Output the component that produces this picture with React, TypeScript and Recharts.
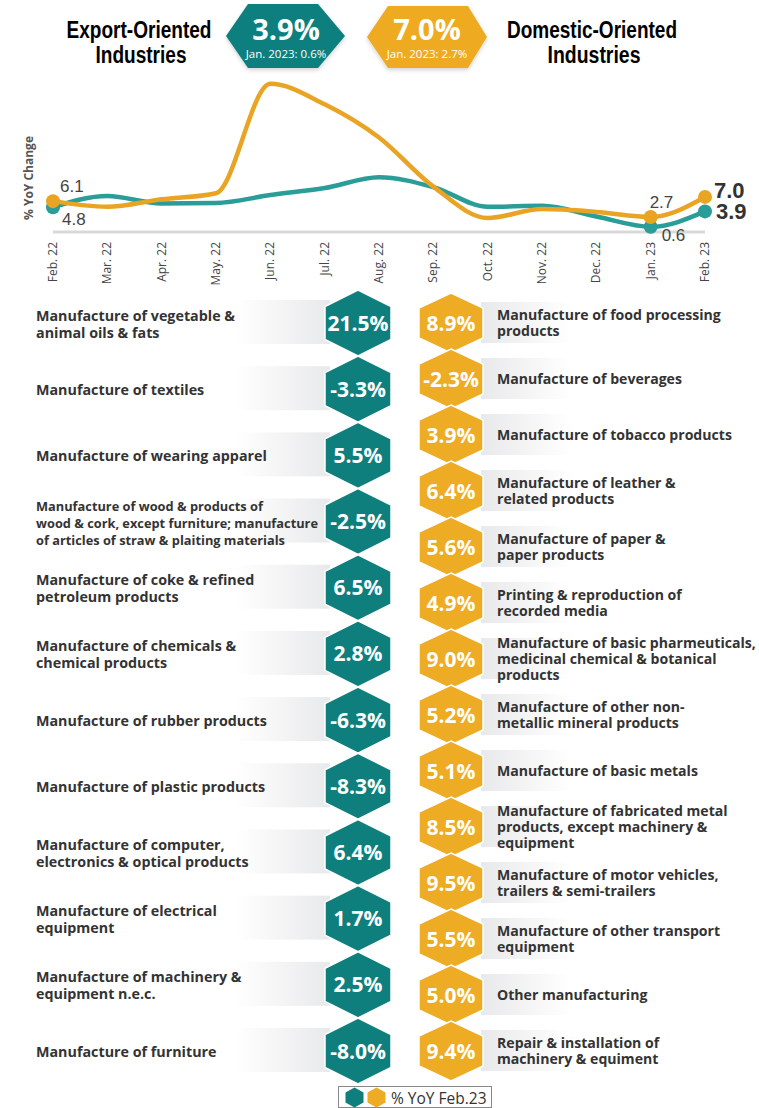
import { LineChart, Line, XAxis, YAxis, LabelList, ScatterChart, Scatter, Legend } from 'recharts';

// headline numbers
const exportHeadline = 3.9;
const exportJan = 0.6;
const domesticHeadline = 7.0;
const domesticJan = 2.7;

// % YoY change line chart
const months = ['Feb. 22', 'Mar. 22', 'Apr. 22', 'May. 22', 'Jun. 22', 'Jul. 22', 'Aug. 22', 'Sep. 22', 'Oct. 22', 'Nov. 22', 'Dec. 22', 'Jan. 23', 'Feb. 23'];
const exportYoY = [4.8, 7.2, 5.6, 5.7, 7.4, 8.9, 11.2, 9.1, 4.9, 5.1, 2.8, 0.6, 3.9];
const domesticYoY = [6.1, 4.9, 6.5, 7.8, 31.2, 26.8, 19.7, 9.2, 2.5, 4.4, 3.8, 2.7, 7.0];
const labelledPoints = [0, 11, 12];

// sub-industries, Feb. 23 % YoY
const exportIndustries = [
  'Manufacture of vegetable &\nanimal oils & fats',
  'Manufacture of textiles',
  'Manufacture of wearing apparel',
  'Manufacture of wood & products of\nwood & cork, except furniture; manufacture\nof articles of straw & plaiting materials',
  'Manufacture of coke & refined\npetroleum products',
  'Manufacture of chemicals &\nchemical products',
  'Manufacture of rubber products',
  'Manufacture of plastic products',
  'Manufacture of computer,\nelectronics & optical products',
  'Manufacture of electrical\nequipment',
  'Manufacture of machinery &\nequipment n.e.c.',
  'Manufacture of furniture',
];
const exportFeb23 = [21.5, -3.3, 5.5, -2.5, 6.5, 2.8, -6.3, -8.3, 6.4, 1.7, 2.5, -8.0];

const domesticIndustries = [
  'Manufacture of food processing\nproducts',
  'Manufacture of beverages',
  'Manufacture of tobacco products',
  'Manufacture of leather &\nrelated products',
  'Manufacture of paper &\npaper products',
  'Printing & reproduction of\nrecorded media',
  'Manufacture of basic pharmeuticals,\nmedicinal chemical & botanical\nproducts',
  'Manufacture of other non-\nmetallic mineral products',
  'Manufacture of basic metals',
  'Manufacture of fabricated metal\nproducts, except machinery &\nequipment',
  'Manufacture of motor vehicles,\ntrailers & semi-trailers',
  'Manufacture of other transport\nequipment',
  'Other manufacturing',
  'Repair & installation of\nmachinery & equiment',
];
const domesticFeb23 = [8.9, -2.3, 3.9, 6.4, 5.6, 4.9, 9.0, 5.2, 5.1, 8.5, 9.5, 5.5, 5.0, 9.4];

const TEAL_LINE = '#2a9d99';
const ORANGE_LINE = '#e9a424';
const TEAL = '#0f7f7e';
const ORANGE = '#eeab24';
const TEXT = '#333';
const SANS = "'Open Sans', 'Noto Sans', sans-serif";
const ARIAL = "'Liberation Sans', Arial, sans-serif";

const lineData = months.map((m, i) => ({ month: m, exportOriented: exportYoY[i], domesticOriented: domesticYoY[i] }));
const exportRows = exportIndustries.map((name, i) => ({ col: 0, row: i, name, value: exportFeb23[i] }));
const domesticRows = domesticIndustries.map((name, i) => ({ col: 1, row: i, name, value: domesticFeb23[i] }));

const pct = (v: number) => `${v.toFixed(1)}%`;

const MonthTick = ({ x, y, payload }: any) => (
  <text transform={`translate(${x + 4},${y + 2}) rotate(-90)`} textAnchor="end" fontSize={12} fill="#444" fontFamily={SANS}>
    {payload.value}
  </text>
);

const YLabel = () => (
  <text transform="translate(33,178) rotate(-90)" textAnchor="middle" fontSize={12} fontWeight={700} fill="#555" fontFamily={SANS}>
    % YoY Change
  </text>
);

const makeDot = (color: string) => (props: any) => {
  const { cx, cy, index } = props;
  if (!labelledPoints.includes(index)) return <g key={`d-${index}`} />;
  return <circle key={`d-${index}`} cx={cx} cy={cy} r={7} fill={color} />;
};

const exportLabel = (props: any) => {
  const { x, y, index, value } = props;
  if (index === 0) return <text x={x + 9} y={y + 18} fontSize={17} fill="#444" fontFamily={ARIAL}>{value}</text>;
  if (index === 11) return <text x={x + 11} y={y + 14} fontSize={17} fill="#444" fontFamily={ARIAL}>{value}</text>;
  if (index === 12) return <text x={x + 11} y={y + 8} fontSize={22} fontWeight={700} fill="#333" fontFamily={ARIAL}>{value.toFixed(1)}</text>;
  return null;
};

const domesticLabel = (props: any) => {
  const { x, y, index, value } = props;
  if (index === 0) return <text x={x + 7} y={y - 9} fontSize={17} fill="#444" fontFamily={ARIAL}>{value}</text>;
  if (index === 11) return <text x={x - 1} y={y - 9} fontSize={17} fill="#444" fontFamily={ARIAL}>{value}</text>;
  if (index === 12) return <text x={x + 9} y={y + 1} fontSize={22} fontWeight={700} fill="#333" fontFamily={ARIAL}>{value.toFixed(1)}</text>;
  return null;
};

const hexPoints = (cx: number, cy: number, hw: number, hh: number) =>
  [
    [cx, cy - hh],
    [cx + hw, cy - hh / 2],
    [cx + hw, cy + hh / 2],
    [cx, cy + hh],
    [cx - hw, cy + hh / 2],
    [cx - hw, cy - hh / 2],
  ]
    .map((p) => p.join(','))
    .join(' ');

const ExportCell = (props: any) => {
  const { cx, cy, payload } = props;
  const lines: string[] = payload.name.split('\n');
  const fs = lines.length > 2 ? 12.8 : 14.3;
  const lh = 17;
  const first = cy + 6 - ((lines.length - 1) * lh) / 2;
  return (
    <g>
      <rect x={cx - 123} y={cy - 23} width={95} height={44} fill="url(#gradLeft)" />
      <polygon points={hexPoints(cx, cy, 33, 33)} fill={TEAL} stroke="#fff" strokeWidth={1.5} />
      <text x={cx} y={cy + 7.5} textAnchor="middle" fill="#fff" fontSize={21} fontWeight={700} fontFamily={SANS}>
        {pct(payload.value)}
      </text>
      <text x={cx - 322} y={first} fill={TEXT} fontSize={fs} fontWeight={700} fontFamily={SANS}>
        {lines.map((l, i) => (
          <tspan key={i} x={cx - 322} y={first + i * lh}>{l}</tspan>
        ))}
      </text>
    </g>
  );
};

const DomesticCell = (props: any) => {
  const { cx, cy, payload } = props;
  const lines: string[] = payload.name.split('\n');
  const lh = 16;
  const first = cy + 5 - ((lines.length - 1) * lh) / 2;
  return (
    <g>
      <rect x={cx + 30} y={cy - 21} width={90} height={41} fill="url(#gradRight)" />
      <polygon points={hexPoints(cx, cy, 32, 30)} fill={ORANGE} stroke="#fff" strokeWidth={1.5} />
      <text x={cx} y={cy + 7.5} textAnchor="middle" fill="#fff" fontSize={21} fontWeight={700} fontFamily={SANS}>
        {pct(payload.value)}
      </text>
      <text x={cx + 46} y={first} fill={TEXT} fontSize={14.1} fontWeight={700} fontFamily={SANS}>
        {lines.map((l, i) => (
          <tspan key={i} x={cx + 46} y={first + i * lh}>{l}</tspan>
        ))}
      </text>
    </g>
  );
};

const SmallHex = ({ color }: { color: string }) => (
  <svg width={19} height={21} style={{ display: 'block' }}>
    <polygon points={hexPoints(9.5, 10.5, 9, 10)} fill={color} />
  </svg>
);

const LegendBox = () => (
  <div
    style={{
      display: 'flex',
      alignItems: 'center',
      gap: 3,
      border: '1px solid #888',
      padding: '1px 4px 0 6px',
      height: 22,
      boxSizing: 'border-box',
      fontFamily: SANS,
      fontSize: 15.5,
      color: TEXT,
      background: '#fff',
    }}
  >
    <SmallHex color={TEAL} />
    <SmallHex color={ORANGE} />
    <span style={{ marginLeft: 2, whiteSpace: 'nowrap' }}>% YoY Feb.23</span>
  </div>
);

const Badge = ({ pts, color, cx, big, small }: { pts: string; color: string; cx: number; big: number; small: number }) => (
  <g>
    <polygon points={pts} fill={color} filter="url(#badgeShadow)" />
    <text x={cx} y={40} textAnchor="middle" fill="#fff" fontSize={29} fontWeight={700} fontFamily={SANS}>
      {pct(big)}
    </text>
    <text x={cx} y={58} textAnchor="middle" fill="#fff" fontSize={11.5} fontFamily={SANS}>
      {`Jan. 2023: ${pct(small)}`}
    </text>
  </g>
);

const Title = ({ cx, first, firstW, secondW }: { cx: number; first: string; firstW: number; secondW: number }) => (
  <g fontFamily={ARIAL} fontWeight={700} fontSize={23} fill="#000">
    <text x={cx - firstW / 2} y={38} textLength={firstW} lengthAdjust="spacingAndGlyphs">{first}</text>
    <text x={cx + 2 - secondW / 2} y={63} textLength={secondW} lengthAdjust="spacingAndGlyphs">Industries</text>
  </g>
);

export default function App() {
  return (
    <div style={{ position: 'absolute', left: 0, top: 0, width: 759, height: 1108, background: '#fff', overflow: 'hidden' }}>
      <div style={{ position: 'absolute', left: 0, top: 0 }}>
        <LineChart width={759} height={290} data={lineData} margin={{ top: 80, right: 54, bottom: 8, left: 0 }}>
          <XAxis
            dataKey="month"
            interval={0}
            tickLine={false}
            axisLine={{ stroke: '#d9d9d9', strokeWidth: 3 }}
            height={50}
            tick={<MonthTick />}
          />
          <YAxis width={53} domain={[-0.5, 32]} tick={false} axisLine={false} tickLine={false} label={<YLabel />} />
          <Line type="monotone" dataKey="exportOriented" stroke={TEAL_LINE} strokeWidth={4.5} dot={makeDot(TEAL_LINE)} activeDot={false} isAnimationActive={false}>
            <LabelList dataKey="exportOriented" content={exportLabel} />
          </Line>
          <Line type="monotone" dataKey="domesticOriented" stroke={ORANGE_LINE} strokeWidth={4.5} dot={makeDot(ORANGE_LINE)} activeDot={false} isAnimationActive={false}>
            <LabelList dataKey="domesticOriented" content={domesticLabel} />
          </Line>
        </LineChart>
      </div>

      <div style={{ position: 'absolute', left: 0, top: 0 }}>
        <ScatterChart width={759} height={1108} margin={{ top: 323, right: 308, bottom: 35, left: 358 }}>
          <defs>
            <linearGradient id="gradLeft" x1="0" y1="0" x2="1" y2="0">
              <stop offset="0%" stopColor="#ffffff" />
              <stop offset="100%" stopColor="#e8e9ea" />
            </linearGradient>
            <linearGradient id="gradRight" x1="0" y1="0" x2="1" y2="0">
              <stop offset="0%" stopColor="#e8e9ea" />
              <stop offset="100%" stopColor="#ffffff" />
            </linearGradient>
          </defs>
          <XAxis type="number" dataKey="col" domain={[0, 1]} hide />
          <YAxis yAxisId="exp" type="number" dataKey="row" domain={[0, 11]} reversed hide />
          <YAxis yAxisId="dom" type="number" dataKey="row" domain={[0, 13]} reversed hide />
          <Scatter yAxisId="exp" data={exportRows} fill={TEAL} shape={ExportCell} isAnimationActive={false} />
          <Scatter yAxisId="dom" data={domesticRows} fill={ORANGE} shape={DomesticCell} isAnimationActive={false} />
          <Legend content={<LegendBox />} wrapperStyle={{ position: 'absolute', left: 338, top: 1086, width: 'auto', bottom: 'auto' }} />
        </ScatterChart>
      </div>

      <svg width={759} height={80} style={{ position: 'absolute', left: 0, top: 0 }}>
        <defs>
          <filter id="badgeShadow" x="-20%" y="-20%" width="140%" height="150%">
            <feDropShadow dx="0" dy="2" stdDeviation="2" floodColor="#000" floodOpacity="0.18" />
          </filter>
        </defs>
        <Title cx={139} first="Export-Oriented" firstW={145} secondW={91} />
        <Title cx={592} first="Domestic-Oriented" firstW={170} secondW={93} />
        <Badge pts="226,36 248,4 318,4 345,36 318,68 248,68" color={TEAL} cx={286} big={exportHeadline} small={exportJan} />
        <Badge pts="367,37 388,6 468,6 487,37 468,68 388,68" color={ORANGE} cx={427} big={domesticHeadline} small={domesticJan} />
      </svg>
    </div>
  );
}
